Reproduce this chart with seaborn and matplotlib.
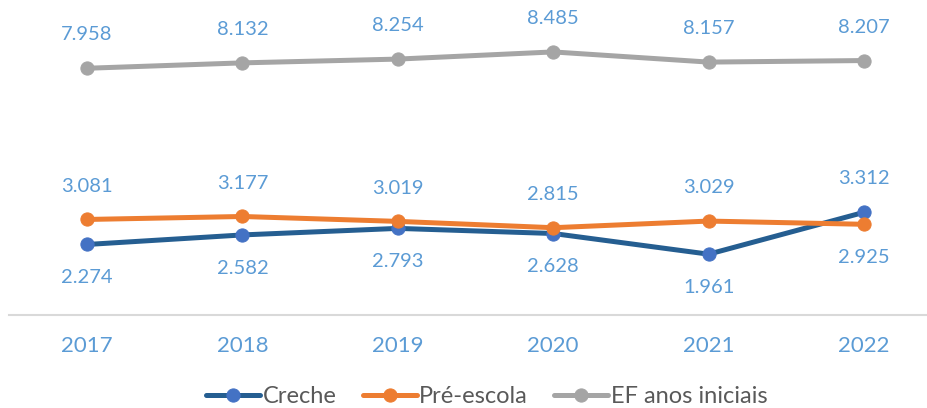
import numpy as np
import pandas as pd
import seaborn as sns
import matplotlib.pyplot as plt

anos = ['2017', '2018', '2019', '2020', '2021', '2022']
creche = [2.274, 2.582, 2.793, 2.628, 1.961, 3.312]
pre_escola = [3.081, 3.177, 3.019, 2.815, 3.029, 2.925]
ef_iniciais = [7.958, 8.132, 8.254, 8.485, 8.157, 8.207]

# label above (+1) or below (-1) each point
pos_creche = [-1, -1, -1, -1, -1, 1]
pos_pre = [1, 1, 1, 1, 1, -1]
pos_ef = [1, 1, 1, 1, 1, 1]

sns.set_theme(style='white')
plt.rcParams['font.family'] = ['Lato', 'DejaVu Sans']

fig = plt.figure(figsize=(9.27, 4.08), dpi=100)
ax = fig.add_axes([0.01, 0.228, 0.99, 0.772])

x = np.arange(len(anos))
series = [
  ('Creche', creche, '#255E91', '#4472C4', pos_creche),
  ('Pré-escola', pre_escola, '#ED7D31', '#ED7D31', pos_pre),
  ('EF anos iniciais', ef_iniciais, '#A5A5A5', '#A5A5A5', pos_ef),
]

for nome, vals, cor, cor_m, pos in series:
  sns.lineplot(x=x, y=vals, ax=ax, color=cor, linewidth=3.6, marker='o',
               markersize=9.5, markerfacecolor=cor_m, markeredgecolor=cor_m,
               label=nome, legend=False)
  for xi, v, p in zip(x, vals, pos):
    ax.annotate(f'{v:.3f}', (xi, v), xytext=(0, 24 * p), textcoords='offset points',
                ha='center', va='center', fontsize=14.5, color='#5B9BD5')

ax.set_xlim(-0.5, 5.405)
ax.set_ylim(0, 10.16)
ax.set_xticks(x)
ax.set_xticklabels(anos)
ax.set_yticks([])
ax.tick_params(axis='x', length=0, pad=15, labelsize=16, labelcolor='#5B9BD5')
for s in ['top', 'left', 'right']:
  ax.spines[s].set_visible(False)
ax.spines['bottom'].set_color('#D9D9D9')
ax.spines['bottom'].set_linewidth(1.5)

h, l = ax.get_legend_handles_labels()
fig.legend(h, l, loc='center', bbox_to_anchor=(0.525, 0.028), ncol=3, frameon=False,
           fontsize=17, handlelength=2.3, handletextpad=0.1, columnspacing=1.1,
           labelcolor='#595959')

fig.savefig('out.png', dpi=100)
